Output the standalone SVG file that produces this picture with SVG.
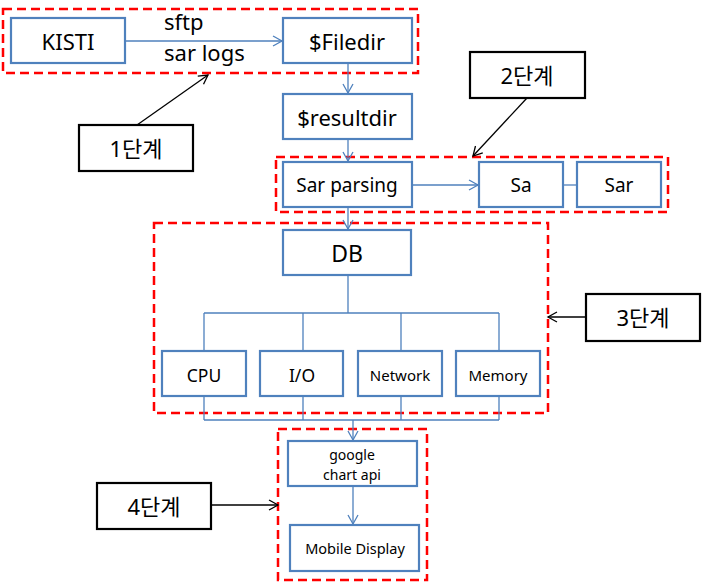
<svg xmlns="http://www.w3.org/2000/svg" width="702" height="582" viewBox="0 0 702 582">
<style>
.n{fill:#fff;stroke:#4F81BD;stroke-width:2.2}
.s{fill:#fff;stroke:#000;stroke-width:2.2}
.g{fill:none;stroke:#FF0000;stroke-width:2.5;stroke-dasharray:9 5}
.c{fill:none;stroke:#4F81BD;stroke-width:1.3}
.k{fill:none;stroke:#000;stroke-width:1.3}
text{font-family:"Noto Sans","Noto Sans CJK KR",sans-serif;fill:#000;text-anchor:middle;dominant-baseline:central}
</style>
<defs>
<marker id="ab" markerWidth="12" markerHeight="12" refX="10" refY="6" orient="auto" markerUnits="userSpaceOnUse"><path d="M1,1 L10,6 L1,11" fill="none" stroke="#4F81BD" stroke-width="1.3"/></marker>
<marker id="ak" markerWidth="12" markerHeight="12" refX="10" refY="6" orient="auto" markerUnits="userSpaceOnUse"><path d="M1,1 L10,6 L1,11" fill="none" stroke="#000" stroke-width="1.3"/></marker>
</defs>
<g id="groups">
<rect class="g" x="3" y="9" width="415" height="64"/>
<rect class="g" x="276" y="157" width="392" height="55"/>
<rect class="g" x="154" y="223" width="394" height="190"/>
<rect class="g" x="278" y="429" width="149" height="151"/>
</g>
<g id="connectors">
<line class="c" x1="125" y1="41" x2="282" y2="41" marker-end="url(#ab)"/>
<line class="c" x1="348" y1="63" x2="348" y2="93" marker-end="url(#ab)"/>
<line class="c" x1="348" y1="139" x2="348" y2="161" marker-end="url(#ab)"/>
<line class="c" x1="412" y1="185" x2="478" y2="185" marker-end="url(#ab)"/>
<line class="c" x1="563" y1="185" x2="577" y2="185"/>
<line class="c" x1="348" y1="207" x2="348" y2="229" marker-end="url(#ab)"/>
<path class="c" d="M348,275 V313 M204,313 H499 M204,313 V351 M303,313 V351 M401,313 V351 M499,313 V351"/>
<path class="c" d="M204,396 V420 M303,396 V420 M401,396 V420 M499,396 V420 M204,420 H499"/>
<line class="c" x1="353" y1="420" x2="353" y2="440" marker-end="url(#ab)"/>
<line class="c" x1="353" y1="486" x2="353" y2="524" marker-end="url(#ab)"/>
<line class="k" x1="137" y1="125" x2="208" y2="75" marker-end="url(#ak)"/>
<line class="k" x1="527" y1="98" x2="473" y2="156" marker-end="url(#ak)"/>
<line class="k" x1="586" y1="317" x2="548" y2="317" marker-end="url(#ak)"/>
<line class="k" x1="211" y1="505" x2="278" y2="505" marker-end="url(#ak)"/>
<text x="164" y="21" font-size="22" style="text-anchor:start">sftp</text>
<text x="164" y="52" font-size="22" style="text-anchor:start">sar logs</text>
</g>
<g id="kisti"><rect class="n" x="11" y="18" width="114" height="45"/><text x="68" y="41" font-size="22">KISTI</text></g>
<g id="filedir"><rect class="n" x="283" y="18" width="129" height="45"/><text x="347" y="41" font-size="22">$Filedir</text></g>
<g id="resultdir"><rect class="n" x="283" y="94" width="129" height="45"/><text x="347" y="117" font-size="22">$resultdir</text></g>
<g id="sarparsing"><rect class="n" x="283" y="162" width="129" height="45"/><text x="347" y="185" font-size="19">Sar parsing</text></g>
<g id="sa"><rect class="n" x="479" y="162" width="84" height="45"/><text x="521" y="185" font-size="19">Sa</text></g>
<g id="sar"><rect class="n" x="577" y="162" width="84" height="45"/><text x="619" y="185" font-size="19">Sar</text></g>
<g id="db"><rect class="n" x="283" y="230" width="128" height="45"/><text x="347" y="253" font-size="23">DB</text></g>
<g id="cpu"><rect class="n" x="162" y="351" width="84" height="45"/><text x="204" y="375" font-size="17.5">CPU</text></g>
<g id="io"><rect class="n" x="260" y="351" width="83" height="45"/><text x="302" y="375" font-size="17.5">I/O</text></g>
<g id="network"><rect class="n" x="358" y="351" width="84" height="45"/><text x="400" y="375" font-size="15">Network</text></g>
<g id="memory"><rect class="n" x="456" y="351" width="84" height="45"/><text x="498" y="375" font-size="15">Memory</text></g>
<g id="chart"><rect class="n" x="288" y="441" width="129" height="45"/><text x="352" y="454" font-size="14">google</text><text x="352" y="474" font-size="14">chart api</text></g>
<g id="mobile"><rect class="n" x="290" y="525" width="129" height="46"/><text x="355" y="548" font-size="14.5">Mobile Display</text></g>
<g id="stage1"><rect class="s" x="79" y="125" width="114" height="46"/><text x="136" y="148" font-size="22">1단계</text></g>
<g id="stage2"><rect class="s" x="470" y="52" width="115" height="46"/><text x="527" y="75" font-size="22">2단계</text></g>
<g id="stage3"><rect class="s" x="586" y="294" width="114" height="47"/><text x="643" y="317" font-size="22">3단계</text></g>
<g id="stage4"><rect class="s" x="97" y="483" width="114" height="46"/><text x="154" y="506" font-size="22">4단계</text></g>
</svg>
